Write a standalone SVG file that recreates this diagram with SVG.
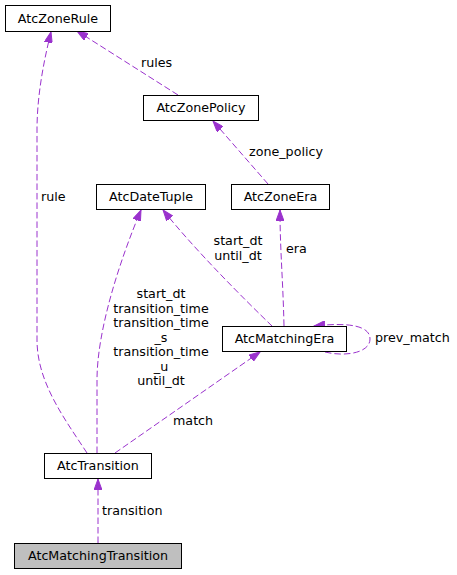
<svg xmlns="http://www.w3.org/2000/svg" width="457" height="575" viewBox="0 0 457 575">
<style>
.n rect{fill:#ffffff;stroke:#000000;stroke-width:1}
.n text{font-family:"DejaVu Sans",sans-serif;font-size:12.7px;text-anchor:middle;fill:#000000}
.e path{fill:none;stroke:#9a32cd;stroke-width:1;stroke-dasharray:6.5,3;marker-end:url(#ah)}
.l{font-family:"DejaVu Sans",sans-serif;font-size:12.7px;fill:#000000}
.c{text-anchor:middle}
</style>
<defs>
<marker id="ah" markerUnits="userSpaceOnUse" markerWidth="12" markerHeight="8" refX="11" refY="4" orient="auto">
<path d="M0,0 L11,4 L0,8 z" fill="#9a32cd" stroke="#9a32cd" stroke-width="1"/>
</marker>
</defs>
<rect width="457" height="575" fill="#ffffff"/>
<g id="edges" class="e">
<path d="M178,95 L77,31"/>
<path d="M268,184 L213,121"/>
<path d="M87,453 C64,418 37,382 37,340 L37,130 C37,95 44,60 51,32"/>
<path d="M97,453 L97,380 C97,330 120,260 141,210"/>
<path d="M115,453 L260,352"/>
<path d="M272,326 C245,300 195,250 163,210"/>
<path d="M284,326 C283,280 280,250 280,210"/>
<path d="M325,352 C345,357 370,353 370,339 C370,326 350,322 314,326"/>
<path d="M98,543 L98,479"/>
</g>
<g id="labels">
<text class="l" x="141" y="67">rules</text>
<text class="l" x="249" y="156">zone_policy</text>
<text class="l" x="41" y="201">rule</text>
<text class="l c" x="238" y="245">start_dt</text>
<text class="l c" x="238" y="260">until_dt</text>
<text class="l" x="286" y="253">era</text>
<text class="l c" x="161" y="298">start_dt</text>
<text class="l c" x="161" y="312.5">transition_time</text>
<text class="l c" x="161" y="327">transition_time</text>
<text class="l c" x="161" y="341.5">_s</text>
<text class="l c" x="161" y="356">transition_time</text>
<text class="l c" x="161" y="370.5">_u</text>
<text class="l c" x="161" y="385">until_dt</text>
<text class="l" x="375" y="342">prev_match</text>
<text class="l" x="173" y="425">match</text>
<text class="l" x="102" y="515">transition</text>
</g>
<g id="AtcZoneRule" class="n"><rect x="5.5" y="5.5" width="105" height="26"/><text x="58" y="22.5">AtcZoneRule</text></g>
<g id="AtcZonePolicy" class="n"><rect x="143.5" y="95.5" width="115" height="25"/><text x="201" y="112">AtcZonePolicy</text></g>
<g id="AtcDateTuple" class="n"><rect x="96.5" y="184.5" width="109" height="25"/><text x="151" y="201">AtcDateTuple</text></g>
<g id="AtcZoneEra" class="n"><rect x="231.5" y="184.5" width="98" height="25"/><text x="280.5" y="201">AtcZoneEra</text></g>
<g id="AtcMatchingEra" class="n"><rect x="222.5" y="326.5" width="124" height="25"/><text x="284.5" y="343">AtcMatchingEra</text></g>
<g id="AtcTransition" class="n"><rect x="44.5" y="453.5" width="107" height="25"/><text x="98" y="470">AtcTransition</text></g>
<g id="AtcMatchingTransition" class="n"><rect x="14.5" y="543.5" width="167" height="25" style="fill:#bfbfbf"/><text x="98" y="560">AtcMatchingTransition</text></g>
</svg>
